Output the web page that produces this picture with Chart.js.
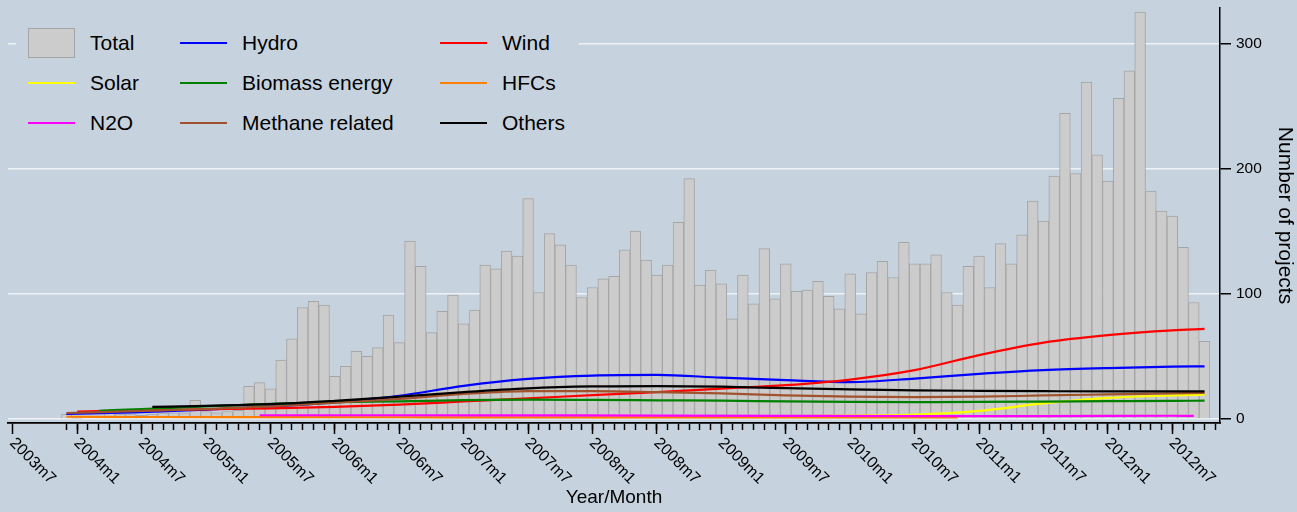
<!DOCTYPE html>
<html>
<head>
<meta charset="utf-8">
<script src="https://cdn.jsdelivr.net/npm/chart.js@4.4.1/dist/chart.umd.min.js"></script>
<style>
  html, body { margin: 0; padding: 0; background: #c6d3df; }
  #wrap { position: relative; width: 1297px; height: 512px; }
  #legend {
    position: absolute; left: 16px; top: 23px; width: 551px; height: 120px;
    padding-left: 12px; background: #c6d3df;
    display: grid; grid-template-columns: 152px 260px 139px; grid-auto-rows: 40px;
    font: 21px "Liberation Sans", Arial, sans-serif; color: #000;
  }
  .item { display: flex; align-items: center; white-space: nowrap; }
  .sym { width: 47px; margin-right: 15px; flex: none; box-sizing: border-box; }
</style>
</head>
<body>
<div id="wrap">
  <canvas id="chart" width="1297" height="512"></canvas>
  <div id="legend"></div>
</div>
<script>
// axis labels
const xTickLabels = ['2003m7', '2004m1', '2004m7', '2005m1', '2005m7', '2006m1', '2006m7', '2007m1', '2007m7',
  '2008m1', '2008m7', '2009m1', '2009m7', '2010m1', '2010m7', '2011m1', '2011m7', '2012m1', '2012m7'];
const yTicks = [0, 100, 200, 300];

// monthly number of projects, 2003m12 .. 2012m10
const firstBarMonth = '2003m12';
const total = [4, 2, 0, 0, 7, 4, 4, 3, 4, 5, 5, 5, 15, 6, 5, 6, 7,
  26, 29, 24, 47, 64, 89, 94, 91, 34, 42, 54, 50, 57, 83, 61,
  142, 122, 69, 86, 99, 76, 87, 123, 120, 134, 130, 176, 101, 148,
  139, 123, 97, 105, 112, 114, 135, 150, 127, 115, 123, 157, 192,
  107, 119, 108, 80, 115, 92, 136, 96, 124, 102, 103, 110, 98, 88,
  116, 84, 117, 126, 113, 141, 124, 124, 131, 101, 91, 122, 130,
  105, 140, 124, 147, 174, 158, 194, 244, 196, 269, 211, 190, 256,
  278, 325, 182, 166, 162, 137, 93, 62];

// smoothed series by project type [month, value]
const hydro = [['2003m12', 4], ['2004m7', 5.5], ['2005m1', 7.5], ['2005m7', 10], ['2006m1', 13.3], ['2006m7', 18.5],
  ['2007m1', 26.5], ['2007m7', 32], ['2008m1', 34.7], ['2008m7', 35.2], ['2009m1', 33], ['2009m7', 31],
  ['2010m1', 29.5], ['2010m7', 32.3], ['2011m1', 36], ['2011m7', 39], ['2012m1', 40.7], ['2012m7', 41.8], ['2012m10', 42]];
const wind = [['2004m1', 6], ['2004m7', 6.8], ['2005m1', 7.7], ['2005m7', 8.5], ['2006m1', 9.7], ['2006m7', 11.5],
  ['2007m1', 14], ['2007m7', 16.5], ['2008m1', 19], ['2008m7', 21.5], ['2009m1', 24.3], ['2009m7', 27],
  ['2010m1', 31.5], ['2010m7', 39], ['2011m1', 51], ['2011m7', 61], ['2012m1', 67], ['2012m7', 70.8], ['2012m10', 71.9]];
const solar = [['2008m1', 1.5], ['2009m1', 1.8], ['2009m7', 2.2], ['2010m1', 2.7], ['2010m7', 3.5], ['2011m1', 6.5],
  ['2011m7', 12.5], ['2012m1', 16.8], ['2012m7', 18.8], ['2012m10', 19.4]];
const biomass = [['2004m3', 6.5], ['2004m7', 8], ['2005m1', 10], ['2005m7', 12], ['2006m1', 13.4], ['2006m7', 14.1],
  ['2007m1', 15], ['2007m7', 15.4], ['2008m1', 15.2], ['2008m7', 14.9], ['2009m1', 14.6], ['2009m7', 14],
  ['2010m1', 13.6], ['2010m7', 13.5], ['2011m1', 13.6], ['2011m7', 13.9], ['2012m1', 14.2], ['2012m7', 14.5], ['2012m10', 14.6]];
const hfcs = [['2003m12', 1.8], ['2004m7', 1.6], ['2005m7', 1.5], ['2006m7', 1.4], ['2007m7', 1.3], ['2008m7', 1.3],
  ['2009m7', 1.3], ['2010m7', 1.2], ['2010m11', 1.2]];
const n2o = [['2005m6', 3], ['2006m7', 3], ['2007m7', 2.9], ['2008m7', 2.7], ['2009m7', 2.5], ['2010m7', 2.3],
  ['2011m7', 2.3], ['2012m7', 2.6], ['2012m9', 2.5]];
const methane = [['2003m12', 4.8], ['2004m7', 6.5], ['2005m1', 8], ['2005m7', 10], ['2006m1', 13], ['2006m7', 16],
  ['2007m1', 20], ['2007m7', 22.3], ['2008m1', 22.3], ['2008m7', 21.5], ['2009m1', 20.4], ['2009m7', 18.8],
  ['2010m1', 17.8], ['2010m7', 17.4], ['2011m1', 17.8], ['2011m7', 18.8], ['2012m1', 19.6], ['2012m7', 20.4], ['2012m10', 20.8]];
const others = [['2004m8', 9.6], ['2005m1', 10.5], ['2005m7', 11.8], ['2006m1', 14.5], ['2006m7', 17.8], ['2007m1', 21.5],
  ['2007m7', 24.5], ['2008m1', 26], ['2008m7', 26.3], ['2009m1', 25.8], ['2009m7', 24.6], ['2010m1', 23.6],
  ['2010m7', 22.9], ['2011m1', 22.5], ['2011m7', 22.2], ['2012m1', 22], ['2012m7', 22], ['2012m10', 22]];

// months counted from 2003m7
const monthIndex = (s) => {
  const [y, m] = s.split('m').map(Number);
  return (y - 2003) * 12 + (m - 7);
};
const toPoints = (arr) => arr.map(([m, v]) => ({ x: monthIndex(m), y: v }));

const FONT = '"Liberation Sans", Arial, sans-serif';
Chart.defaults.font.family = FONT;
Chart.defaults.color = '#000';

const firstIdx = monthIndex(firstBarMonth);
const lastAxisIdx = firstIdx + total.length; // one month past the last bar
const minorTicks = [];
for (let i = firstIdx; i <= lastAxisIdx; i++) minorTicks.push(i);

const lineSet = (label, arr, color, order) => ({
  type: 'line', label, data: toPoints(arr), borderColor: color, backgroundColor: color,
  borderWidth: 2.2, pointRadius: 0, cubicInterpolationMode: 'monotone', fill: false, order
});

const xRange = { min: -0.44, max: lastAxisIdx + 0.44 };

// rotated month labels, reading down to the right from each tick
const tickLabelPlugin = {
  id: 'tickLabels',
  afterDraw(chart) {
    const s = chart.scales.x;
    const ctx = chart.ctx;
    ctx.save();
    ctx.font = '16px ' + FONT;
    ctx.fillStyle = '#000';
    ctx.textAlign = 'left';
    ctx.textBaseline = 'top';
    xTickLabels.forEach((lab) => {
      const px = s.getPixelForValue(monthIndex(lab));
      ctx.save();
      ctx.translate(px + 5, s.top + 12);
      ctx.rotate(Math.PI / 4);
      ctx.fillText(lab, 0, 0);
      ctx.restore();
    });
    ctx.restore();
  }
};

const chart = new Chart(document.getElementById('chart'), {
  type: 'bar',
  data: {
    datasets: [
      {
        type: 'bar', label: 'Total',
        data: total.map((v, i) => ({ x: firstIdx + i, y: v })),
        backgroundColor: '#cccccc', borderColor: '#a5a5a5', borderWidth: 1,
        barPercentage: 1, categoryPercentage: 1, order: 100
      },
      lineSet('Hydro', hydro, '#0000ff', 8),
      lineSet('Wind', wind, '#ff0000', 7),
      lineSet('Solar', solar, '#ffff00', 6),
      lineSet('Biomass energy', biomass, '#008000', 5),
      lineSet('HFCs', hfcs, '#ff7f00', 4),
      lineSet('N2O', n2o, '#ff00ff', 3),
      lineSet('Methane related', methane, '#a0522d', 2),
      lineSet('Others', others, '#000000', 1)
    ]
  },
  options: {
    responsive: false,
    devicePixelRatio: 1,
    animation: false,
    events: [],
    layout: { padding: { left: 8, top: 8, right: 0, bottom: 0 } },
    plugins: { legend: { display: false }, tooltip: { enabled: false } },
    scales: {
      xMajor: {
        type: 'linear', position: 'bottom', weight: 0, ...xRange, offset: false,
        afterBuildTicks: (s) => { s.ticks = xTickLabels.map((l) => ({ value: monthIndex(l) })); },
        ticks: { display: false },
        grid: { drawOnChartArea: false, offset: false, tickLength: 11, tickWidth: 1.5, tickColor: '#000' },
        border: { color: '#000', width: 1.5 },
        afterFit: (s) => { s.height = 0; s.paddingLeft = 0; s.paddingRight = 0; }
      },
      x: {
        type: 'linear', position: 'bottom', weight: 1, ...xRange, offset: false,
        afterBuildTicks: (s) => { s.ticks = minorTicks.map((v) => ({ value: v })); },
        ticks: { display: false },
        grid: { drawOnChartArea: false, offset: false, tickLength: 7, tickWidth: 1.5, tickColor: '#000' },
        border: { color: '#000', width: 1.5 },
        title: { display: true, text: 'Year/Month', font: { size: 19 }, color: '#000', padding: { top: 0, bottom: 3 } },
        afterFit: (s) => { s.height = 89; s.paddingLeft = 0; s.paddingRight = 0; }
      },
      y: {
        type: 'linear', position: 'right', min: -3.2, max: 328.2,
        afterBuildTicks: (s) => { s.ticks = yTicks.map((v) => ({ value: v })); },
        ticks: { font: { size: 15.5 }, color: '#000', padding: 5 },
        grid: { color: '#eef2f6', lineWidth: 1.5, tickLength: 11, tickWidth: 1.5, tickColor: '#000' },
        border: { color: '#000', width: 1.5 },
        title: { display: true, text: 'Number of projects', font: { size: 21 }, color: '#000', padding: { top: 0, bottom: 0 } },
        afterFit: (s) => { s.width = 77; s.paddingTop = 0; s.paddingBottom = 0; }
      }
    }
  },
  plugins: [tickLabelPlugin]
});

// legend in three columns, filled row by row
const legendEl = document.getElementById('legend');
chart.data.datasets.forEach((ds) => {
  const item = document.createElement('div');
  item.className = 'item';
  const sym = document.createElement('span');
  sym.className = 'sym';
  if (ds.type === 'bar') {
    sym.style.height = '30px';
    sym.style.background = ds.backgroundColor;
    sym.style.border = '1px solid ' + ds.borderColor;
  } else {
    sym.style.height = '2px';
    sym.style.background = ds.borderColor;
  }
  const txt = document.createElement('span');
  txt.textContent = ds.label;
  item.appendChild(sym);
  item.appendChild(txt);
  legendEl.appendChild(item);
});
</script>
</body>
</html>
